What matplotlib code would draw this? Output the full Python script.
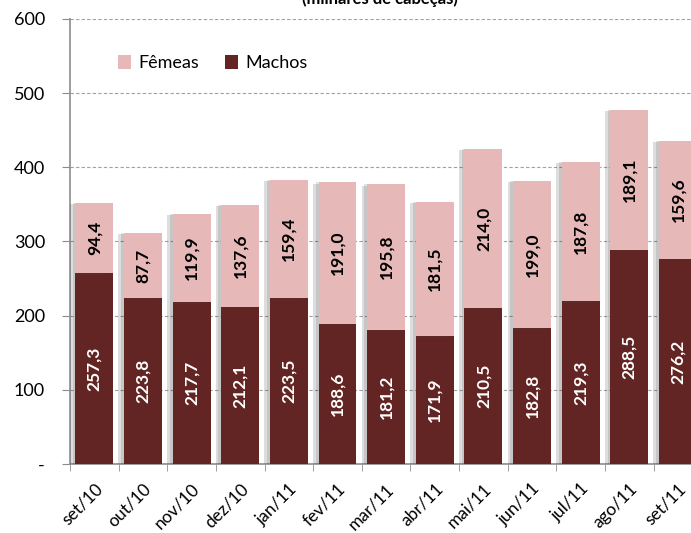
import matplotlib
matplotlib.use("Agg")
import matplotlib.pyplot as plt
import matplotlib.patheffects as pe
from matplotlib.patches import Patch
import numpy as np

# data (milhares de cabeças)
months = ["set/10", "out/10", "nov/10", "dez/10", "jan/11", "fev/11", "mar/11",
          "abr/11", "mai/11", "jun/11", "jul/11", "ago/11", "set/11"]
machos = [257.3, 223.8, 217.7, 212.1, 223.5, 188.6, 181.2, 171.9, 210.5, 182.8, 219.3, 288.5, 276.2]
femeas = [94.4, 87.7, 119.9, 137.6, 159.4, 191.0, 195.8, 181.5, 214.0, 199.0, 187.8, 189.1, 159.6]
yticks = [0, 100, 200, 300, 400, 500, 600]
ytick_labels = ["-", "100", "200", "300", "400", "500", "600"]

c_machos = "#632523"
c_femeas = "#E6B8B7"

plt.rcParams["font.family"] = ["Lato", "DejaVu Sans"]

fig = plt.figure(figsize=(6.91, 5.33), dpi=100)
ax = fig.add_axes([0.1013, 0.1295, 0.915, 0.835])

x = np.arange(len(months))
# soft shadow on the left of each bar, like the original
shadow = [pe.SimplePatchShadow(offset=(-4, -1), alpha=0.18, shadow_rgbFace="#444444"),
          pe.SimplePatchShadow(offset=(-2, 0), alpha=0.15, shadow_rgbFace="#444444"),
          pe.Normal()]
b1 = ax.bar(x, machos, width=0.78, color=c_machos, zorder=3)
b2 = ax.bar(x, femeas, width=0.78, bottom=machos, color=c_femeas, zorder=3)
for p in list(b1) + list(b2):
    p.set_path_effects(shadow)

for i in range(len(months)):
    ax.text(x[i], machos[i] / 2, f"{machos[i]:.1f}".replace(".", ","), rotation=90,
            ha="center", va="center", color="white", fontsize=12.5, fontweight="bold", zorder=4)
    ax.text(x[i], machos[i] + femeas[i] / 2, f"{femeas[i]:.1f}".replace(".", ","), rotation=90,
            ha="center", va="center", color="black", fontsize=12.5, fontweight="bold", zorder=4)

ax.set_xlim(-0.5, len(months) - 0.5)
ax.set_ylim(0, 600)
ax.set_yticks(yticks)
ax.set_yticklabels(ytick_labels, fontsize=13)
ax.yaxis.grid(True, linestyle=(0, (3, 2)), color="#a0a0a0", linewidth=0.8, zorder=0)
ax.set_axisbelow(True)

ax.set_xticks(x)
ax.set_xticklabels(months, rotation=45, ha="right", rotation_mode="anchor", fontsize=12.5)
ax.set_xticks(np.arange(len(months)) - 0.5, minor=True)
ax.tick_params(axis="x", which="major", length=0, pad=12)
ax.tick_params(axis="x", which="minor", length=5, color="#8c8c8c", direction="out")
ax.tick_params(axis="y", length=6, color="#8c8c8c", direction="out", pad=12)

for s in ["top", "right"]:
    ax.spines[s].set_visible(False)
for s in ["left", "bottom"]:
    ax.spines[s].set_color("#8c8c8c")
    ax.spines[s].set_linewidth(1.2)

handles = [Patch(facecolor=c_femeas), Patch(facecolor=c_machos)]
ax.legend(handles=handles, labels=["Fêmeas", "Machos"], loc="upper left",
          bbox_to_anchor=(0.05, 0.955), ncol=2, frameon=False, fontsize=13,
          handlelength=0.75, handleheight=0.75, columnspacing=1.4, handletextpad=0.4)

fig.text(0.55, 0.992, "(milhares de cabeças)", ha="center", va="baseline",
         fontsize=12, fontweight="bold")

fig.savefig("out.png", dpi=100)
